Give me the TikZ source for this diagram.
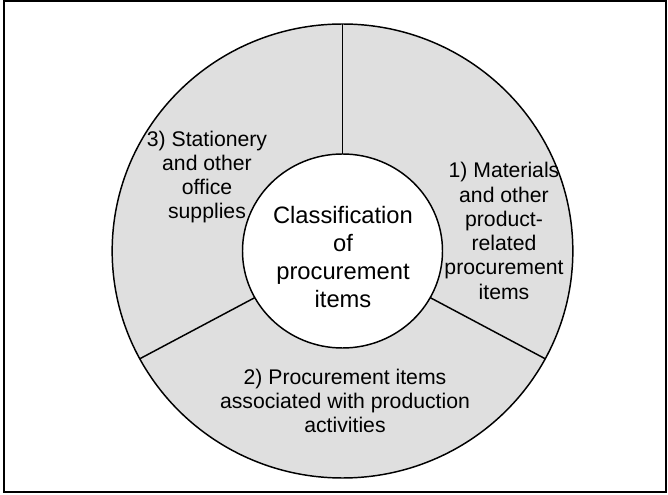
\documentclass[tikz,border=0pt]{standalone}
\usepackage{fontspec}
\setmainfont{Liberation Sans}
\usetikzlibrary{shapes.geometric}
\definecolor{ringgray}{HTML}{DFDFDF}
\tikzset{
    ring/.style={ellipse, draw, line width=1.1pt, inner sep=0pt, outer sep=0pt},
    sectortext/.style={align=center, inner sep=0pt, font=\fontsize{15.9}{18.2}\selectfont},
    centertext/.style={align=center, inner sep=0pt, font=\fontsize{17.8}{20.8}\selectfont}
}
\begin{document}
\begin{tikzpicture}[x=0.75pt, y=-0.75pt]
    \useasboundingbox (0,0) rectangle (668,495);
    % Frame
    \draw[line width=1.2pt] (4,1) rectangle (666,492);

    % Outer ring with the three groups
    \node[ring, fill=ringgray, minimum width=345.5pt, minimum height=340.5pt] (outer) at (342.5,251) {};
    \node[sectortext] (materials) at (504,231) {1) Materials\\and other\\product-\\related\\procurement\\items};
    \node[sectortext] (production) at (345,401) {2) Procurement items\\associated with production\\activities};
    \node[sectortext] (stationery) at (207,177) {3) Stationery\\and other\\office\\supplies};

    % Centre
    \node[ring, fill=white, minimum width=150pt, minimum height=145.5pt] (inner) at (342.5,251) {};
    \node[centertext] (classification) at (343,257) {Classification\\of\\procurement\\items};

    % Dividers
    \foreach \a in {90,-28.5,208.5}
        \draw[line width=1.1pt] (inner.\a) -- (outer.\a);
\end{tikzpicture}
\end{document}
